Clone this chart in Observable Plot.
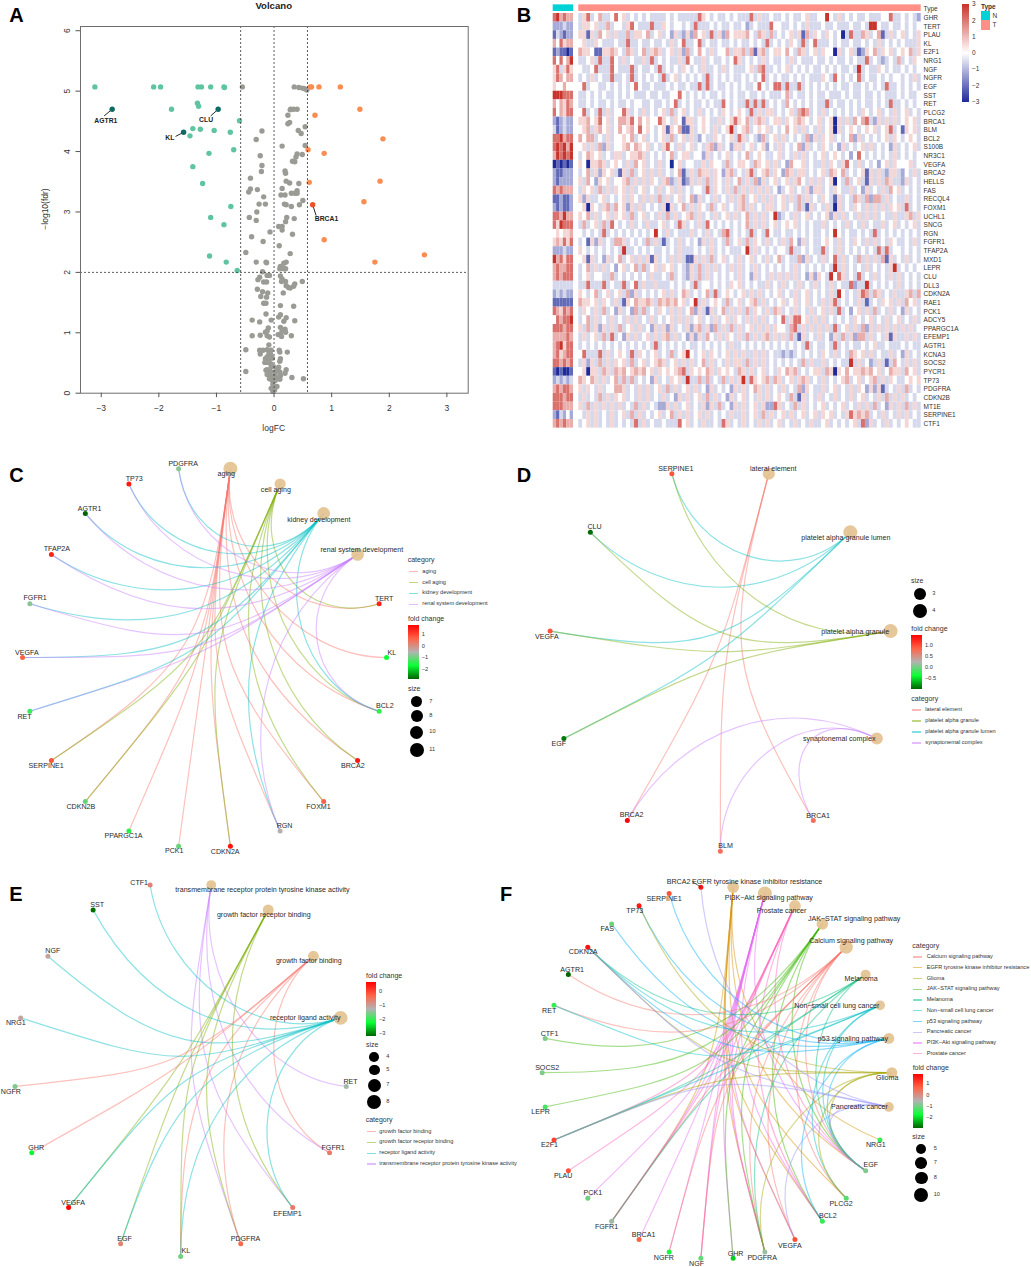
<!DOCTYPE html>
<html><head><meta charset="utf-8">
<script src="https://cdn.jsdelivr.net/npm/d3@7"></script>
<script src="https://cdn.jsdelivr.net/npm/@observablehq/plot@0.6"></script>
<style>
html,body{margin:0;padding:0;background:#fff}
#page{position:relative;width:1031px;height:1267px;overflow:hidden;font-family:"Liberation Sans",Arial,sans-serif;color:#333}
#page>svg,#page>div.p{position:absolute}
.t{position:absolute;white-space:nowrap;line-height:1;transform:translateY(-50%)}
.s{position:absolute}
</style></head><body><div id="page"></div>
<script>
/* ---------- Panel A data: [logFC, -log10(fdr)] ---------- */
const volcanoDown=[[-3.11,5.07],[-2.09,5.07],[-1.97,5.07],[-1.32,5.07],[-1.26,5.07],[-1.10,5.07],[-.87,5.07],[-.86,5.06],[-1.78,4.70],[-1.33,4.80],[-1.31,4.75],[-.60,4.51],[-1.41,4.38],[-1.28,4.37],[-1.04,4.35],[-.76,4.32],[-1.46,4.26],[-.70,4.03],[-1.13,3.97],[-1.41,3.75],[-1.24,3.47],[-.75,3.09],[-1.10,2.91],[-.87,2.79],[-1.12,2.27],[-.83,2.17],[-.64,2.03]];
const volcanoUp=[[.63,5.07],[.65,5.07],[.78,5.07],[1.15,5.07],[1.49,4.70],[.71,4.60],[1.89,4.21],[.59,4.03],[.87,3.97],[1.84,3.51],[.61,3.49],[1.56,3.17],[.87,2.54],[2.61,2.29],[1.75,2.17]];
const volcanoGray=[[-.55,5.07],[.35,5.07],[.43,5.06],[.49,5.05],[.53,5.04],[.57,5.02],[.29,4.70],[.34,4.70],[.40,4.70],[.28,4.69],[.24,4.60],[.27,4.48],[.24,4.46],[.54,4.41],[.42,4.35],[.47,4.30],[-.21,4.34],[-.31,4.20],[.14,4.09],[.54,4.10],[-.24,3.93],[.40,3.96],[.49,3.95],[.38,3.91],[.32,3.84],[.36,3.83],[-.21,3.77],[-.22,3.67],[.19,3.68],[.20,3.64],[-.41,3.56],[.21,3.51],[.27,3.48],[.43,3.47],[.14,3.39],[-.41,3.38],[-.44,3.33],[-.29,3.37],[.40,3.35],[.30,3.31],[.36,3.31],[.40,3.31],[-.18,3.25],[.12,3.28],[.19,3.28],[.50,3.19],[-.26,3.13],[-.15,3.13],[.18,3.13],[.21,3.12],[.30,3.09],[.44,3.12],[-.30,3.0],[-.43,2.91],[.22,2.91],[.35,2.89],[-.31,2.86],[.20,2.84],[.08,2.76],[.14,2.76],[.14,2.70],[-.07,2.67],[.32,2.63],[-.39,2.59],[-.19,2.51],[.09,2.44],[-.49,2.33],[.28,2.31],[-.31,2.17],[-.14,2.17],[-.13,2.16],[.21,2.17],[.17,2.15],[.11,2.10],[.10,2.06],[.17,2.06],[.20,2.06],[-.20,2.01],[-.12,1.95],[-.08,1.95],[-.25,1.92],[.11,1.94],[-.28,1.88],[.14,1.89],[.13,1.85],[.20,1.85],[.49,1.85],[-.18,1.84],[-.13,1.84],[.36,1.81],[.21,1.78],[.34,1.77],[.25,1.75],[.28,1.74],[-.29,1.72],[-.20,1.68],[-.11,1.66],[.16,1.66],[-.23,1.60],[-.13,1.59],[-.18,1.49],[-.14,1.49],[.11,1.45],[.34,1.44],[-.14,1.31],[.11,1.30],[.08,1.26],[.21,1.25],[-.05,1.21],[-.38,1.21],[-.25,1.18],[.17,1.19],[.36,1.20],[-.10,1.08],[.11,1.09],[-.15,1.01],[-.12,1.03],[.19,1.06],[.14,1.04],[.20,1.01],[.11,.98],[.07,.97],[-.24,.96],[-.38,.95],[-.12,.95],[-.08,.93],[.13,.94],[.30,.95],[-.09,.80],[-.49,.72],[-.25,.71],[-.19,.71],[-.12,.72],[-.05,.71],[.09,.71],[.10,.68],[.23,.68],[-.24,.65],[-.09,.65],[-.06,.64],[-.12,.60],[-.03,.58],[.11,.57],[.10,.53],[-.15,.57],[-.09,.55],[-.12,.51],[-.16,.51],[-.06,.49],[-.05,.44],[-.01,.44],[.08,.43],[-.12,.39],[-.14,.38],[-.49,.36],[-.06,.36],[.05,.38],[.02,.35],[.21,.39],[.19,.33],[.10,.35],[-.12,.31],[-.05,.29],[.02,.29],[.31,.26],[.11,.29],[-.08,.24],[.04,.25],[.10,.23],[.51,.24],[-.03,.21],[.02,.21],[-.02,.15],[.05,.11],[-.05,.08],[.01,.055],[-.02,.03]];
const volcanoNamed=[{g:"AGTR1",x:-2.81,y:4.70,lx:-2.92,ly:4.51,ex:-2.95,ey:4.59,c:"#0e6b63"},{g:"CLU",x:-.97,y:4.70,lx:-1.18,ly:4.52,ex:-1.10,ey:4.59,c:"#0e6b63"},{g:"KL",x:-1.57,y:4.32,lx:-1.81,ly:4.22,ex:-1.71,ey:4.25,c:"#0e6b63"},{g:"BRCA1",x:.67,y:3.12,lx:.91,ly:2.89,ex:.73,ey:2.94,c:"#ea5029"}];

/* ---------- Panel B data: levels estimated by eye per row ---------- */
const heatGenes=["GHR","TERT","PLAU","KL","E2F1","NRG1","NGF","NGFR","EGF","SST","RET","PLCG2","BRCA1","BLM","BCL2","S100B","NR3C1","VEGFA","BRCA2","HELLS","FAS","RECQL4","FOXM1","UCHL1","SNCG","RGN","FGFR1","TFAP2A","MXD1","LEPR","CLU","DLL3","CDKN2A","RAE1","PCK1","ADCY5","PPARGC1A","EFEMP1","AGTR1","KCNA3","SOCS2","PYCR1","TP73","PDGFRA","CDKN2B","MT1E","SERPINE1","CTF1"];
const heatLevels=[-3,-2.1,-1.2,-.55,0,.6,1.2,2.1,3];
const heatNormal=["786766","222322","132122","647566","121101","747468","573575","576466","544644","888777","646576","746577","212322","312322","778677","787868","687878","010101","211222","212222","767666","112112","212112","776866","758777","454556","565757","222322","867577","676677","676777","333333","232322","111111","765767","476778","777677","666676","678577","675677","776767","101001","232323","676776","777677","777666","213242","676766"];
const heatTumor=[
"3573463347 4534343433 3343433333 7543433434 3337353343 3434334533 4484353434 3343334473 343432",
"3554533634 4357433373 3543443437 3334343343 3423433374 4334343533 3433433343 3438843343 343434",
"5515364535 3363554634 5342532526 4537352645 5564365363 4345351635 4354340373 3653461353 453435",
"4533543334 3373343343 3435347334 7343343343 4334343734 3435437347 3334343343 3434353434 343335",
"6554115565 4365346356 5345352634 6435344635 5636156345 5464365345 3544053453 1254635453 454635",
"3345373374 3534335373 4343353743 3534334347 5343435343 3435343334 3343433434 3373432343 634354",
"4334733374 3337343343 7343435434 3533435343 3345367334 3453434343 3434343343 8343354343 343434",
"3435343373 3437343434 3734534343 4373434343 3434347343 4334343433 3543743434 7343343434 434353",
"4734433434 3434743343 3343433433 7373433434 3433474347 7373373434 3434343343 3434343733 434343",
"3343434334 3434333433 4334474343 4343343434 3343343433 3463433434 3343334343 3433434333 434334",
"3343433434 3343443343 3434734343 3434337434 3373737343 4364343434 3373433434 3433434373 343434",
"4734373534 4753435343 4536345343 5343435434 5437353553 4345367634 3534343434 3543453435 345343",
"5564574534 6657464544 7543541553 4543353457 5463565345 5354565434 5345053536 4673253535 345453",
"4563564534 6456474543 4515461153 4543534583 4563454534 3464535343 5345053454 3454534573 415453",
"6466343534 4546345343 4536345353 2433543453 7534326345 3534343625 3545343462 5343434535 434543",
"4535362534 4564654534 3574353453 4356253425 5345345243 5343462534 3543425343 4535343425 343453",
"3465453435 5345565343 4346345534 4253434534 3463454334 5343535343 4534543424 7434343435 343434",
"5405565345 4353645343 5340453443 3535443634 5543654535 3426445343 3535435743 5343424535 444534",
"3463525453 1536345353 5343461353 6553542563 4357345635 4265355343 4536546343 4515353255 324353",
"5364254534 4563535354 3562351253 5363543534 6353625345 3453564353 5345043634 5315353653 325343",
"3545363535 4535345343 5345353434 4373543536 3535353534 2345343525 5343543353 4253435364 534343",
"5253345343 4535435353 6353453462 5343534353 5634535353 4535363534 3543153436 5362663534 335343",
"4505435636 4525353434 3505346353 5436345343 5635343553 4534363153 4353053435 4353535354 537343",
"5463534535 4536345343 5363534563 5343534535 3463535348 2343534534 3452535343 5353534335 335635",
"3634536374 3435343533 4534375343 5374343434 3463535345 3454534343 3534343534 3534335345 343453",
"4343437343 4343434348 4353433353 4353436734 3437343743 3433434343 3434843433 4343734343 434343",
"3415253436 6534343635 3134353434 2535343634 5363543534 3536425343 3454353435 4353534354 334353",
"5434343434 3833434343 3434353334 3435343433 3483534343 4437334343 3734353434 3434373734 434343",
"4515342534 6345353515 3435353115 3536345343 5345343534 6343362534 3534735343 6353536153 435343",
"3463535342 4534636345 3545343253 6353534353 5343534343 4343534343 4343835343 4353434358 343434",
"3453443363 4343434353 3436343253 6353434343 5342534353 5353534252 5438475343 7343534353 534343",
"3373337343 3734735335 3334343437 3443434354 5343433534 3534353435 3435343372 3383434343 534343",
"5434634534 5362534343 4535346534 3463734543 4535353434 5343534534 3435384343 5763653435 335636",
"6554535435 3154655653 6565645348 3534543634 5345635343 4534534534 3535734343 5313435453 536453",
"3543536342 5342636343 5435353462 5315346353 5363543536 5343534353 4535373424 5353634353 425343",
"3463534353 4353534353 4345353534 5343534535 4353535343 4735774535 3534343435 4345343534 534353",
"5363525353 6345353425 3525343525 6352635363 5345353535 4436735353 5353734535 3625353535 353534",
"3534536373 4253534535 3563534252 5364353543 5363535635 3536315343 5342536352 6635343515 335353",
"3434343434 3434343437 3434343433 4343434353 3434343434 3434343734 3343734343 3434533433 343433",
"4733373534 5437354345 3436345843 4535434535 3533535343 3232343434 3543534365 4535343353 425343",
"3525363535 4536345345 6534535353 4635343535 5363535343 4343436353 3534343383 5342353136 435353",
"4505536536 5645656453 5454567354 5465354543 6535345343 5465634345 5365054645 5656453465 536453",
"6546535346 3636343425 3435453833 6363436353 5837545636 5345356534 3534345634 5345635354 334545",
"5354353446 6534353534 5363534535 3425343425 3534653534 3534362543 3534534353 5425251343 536343",
"3534363535 4534353534 3534253534 5363534253 4534353534 5436315343 5343534353 4534353635 353434",
"5363535353 5343635343 2253534534 3525363425 3534535227 5343635343 4534345343 5353634253 536353",
"4353534353 4536353434 5346353534 5353434353 3534536353 4535345345 3545343575 6563435343 535343",
"3453534353 4343735343 3433374534 3533437534 3534353534 5343534353 3453434345 3725343534 345433"];

/* ---------- Panels C to F data: node order round the circle, fold changes, memberships ---------- */
const cCats=["aging","cell aging","kidney development","renal system development"];
const cSizes=[11,7,9,9];
const cGenes=["TERT","KL","BCL2","BRCA2","FOXM1","RGN","CDKN2A","PCK1","PPARGC1A","CDKN2B","SERPINE1","RET","VEGFA","FGFR1","TFAP2A","AGTR1","TP73","PDGFRA"];
const cFC=[1.5,-1.6,-1.4,1.6,.75,-.4,1.7,-1.0,-1.4,-1.0,.9,-1.3,.75,-.75,1.5,-2.8,1.6,-.75];
const cMembers=[["TERT","KL","BCL2","BRCA2","FOXM1","RGN","CDKN2A","PCK1","PPARGC1A","CDKN2B","SERPINE1"],["TERT","BCL2","BRCA2","FOXM1","CDKN2A","CDKN2B","SERPINE1"],["BCL2","RGN","RET","VEGFA","FGFR1","TFAP2A","AGTR1","TP73","PDGFRA"],["BCL2","RGN","RET","VEGFA","FGFR1","TFAP2A","AGTR1","TP73","PDGFRA"]];
const cLabelAt=[[677,100],[826,147],[955,237],[1084,328],[1151,474],[1174,637],[1153,797],[1057,975],[954,1100],[852,1157],[674,1233],[521,1232],[369,1186],[241,1098],[137,975],[72,828],[79,636],[104,473],[169,326],[267,204],[401,115],[548,69]];

const dCats=["lateral element","platelet alpha granule lumen","platelet alpha granule","synaptonemal complex"];
const dSizes=[3,4,4,3];
const dGenes=["BRCA1","BLM","BRCA2","EGF","VEGFA","CLU","SERPINE1"];
const dFC=[.75,.75,1.45,-.9,.95,-.95,.95];
const dMembers=[["BRCA1","BLM","BRCA2"],["EGF","VEGFA","CLU","SERPINE1"],["EGF","VEGFA","CLU","SERPINE1"],["BRCA1","BLM","BRCA2"]];
const dLabelAt=[[788,86],[1006,292],[1034,573],[986,895],[923,1125],[645,1217],[363,1124],[145,911],[109,588],[252,260],[496,85]];

const eCats=["transmembrane receptor protein tyrosine kinase activity","growth factor receptor binding","growth factor binding","receptor ligand activity"];
const eSizes=[4,5,5,8];
const eGenes=["RET","FGFR1","EFEMP1","PDGFRA","KL","EGF","VEGFA","GHR","NGFR","NRG1","NGF","SST","CTF1"];
const eFC=[-1.3,-.5,-.5,-.3,-1.6,-.6,.75,-2.2,-1.5,-1.0,-1.0,-3.1,-.6];
const eMembers=[["RET","FGFR1","EFEMP1","PDGFRA"],["EFEMP1","PDGFRA","KL","EGF","VEGFA"],["FGFR1","PDGFRA","KL","GHR","NGFR"],["EFEMP1","KL","EGF","VEGFA","NRG1","NGF","SST","CTF1"]];
const eLabelAt=[[786,88],[790,163],[925,302],[914,473],[1050,664],[998,862],[861,1059],[735,1135],[556,1171],[372,1135],[218,1027],[107,861],[31,693],[46,487],[157,270],[290,134],[416,68]];

const fCats=["EGFR tyrosine kinase inhibitor resistance","PI3K\u2212Akt signaling pathway","Prostate cancer","JAK\u2212STAT signaling pathway","Calcium signaling pathway","Melanoma","Non\u2212small cell lung cancer","p53 signaling pathway","Glioma","Pancreatic cancer"];
const fSizes=[7,10,7,7,9,5,5,6,6,5];
const fGenes=["NRG1","EGF","PLCG2","BCL2","VEGFA","PDGFRA","GHR","NGF","NGFR","BRCA1","FGFR1","PCK1","PLAU","E2F1","LEPR","SOCS2","CTF1","RET","AGTR1","CDKN2A","FAS","TP73","SERPINE1","BRCA2"];
const fFC=[-1.3,-.8,-1.1,-1.3,.95,-.6,-2.0,-1.0,-1.5,.75,-.6,-.95,.95,1.1,-1.2,-.85,-.8,-1.3,-2.8,1.7,-.95,1.6,.95,1.6];
const fMembers=[["NRG1","EGF","PLCG2","BCL2","VEGFA","PDGFRA","FGFR1"],["BRCA1","NGFR","NGF","PCK1","FGFR1","GHR","BCL2","VEGFA","EGF","PDGFRA"],["PLAU","E2F1","EGF","BCL2","PDGFRA","FGFR1","NGF"],["LEPR","SOCS2","CTF1","GHR","EGF","BCL2","PDGFRA"],["AGTR1","NGF","NGFR","EGF","PLCG2","PDGFRA","VEGFA","FGFR1","RET"],["FGFR1","E2F1","CDKN2A","EGF","PDGFRA"],["RET","CDKN2A","E2F1","EGF","PLCG2"],["TP73","SERPINE1","FAS","CDKN2A","BCL2","EGF"],["E2F1","CDKN2A","EGF","PLCG2","PDGFRA","TP73"],["BRCA2","E2F1","CDKN2A","EGF","VEGFA"]];
const fLabelAt=[[710,65],[745,113],[783,150],[1001,176],[992,242],[1022,356],[949,435],[997,535],[1100,652],[1017,740],[1066,853],[1051,914],[962,1030],[922,1067],[808,1155],[725,1191],[645,1179],[528,1210],[430,1192],[369,1123],[258,1098],[217,997],[128,946],[87,854],[60,754],[80,621],[87,519],[86,451],[155,327],[188,274],[260,206],[343,151],[431,115],[474,65]];

/* ---------- palettes ---------- */
const RED="#F8766D",OLIVE="#7CAE00",CYAN="#00BFC4",PURPLE="#C77CFF";
const cColors=[RED,OLIVE,CYAN,PURPLE];
const dColors=[RED,CYAN,OLIVE,PURPLE];
const eColors=[PURPLE,OLIVE,RED,CYAN];
const fColors=["#D89000","#E76BF3","#FF62BC","#39B600","#F8766D","#00BF7D","#00BFC4","#00B0F6","#A3A500","#9590FF"];
const fcRamp=["darkgreen","#0AFF34","#B3B3B3","#FF6347","red"];
const FONT='"Liberation Sans",Arial,sans-serif';
const page=document.getElementById("page");

/* ---------- html helpers for titles and legends ---------- */
function txt(x,y,s,o={}){const d=document.createElement("div");d.className="t";d.textContent=s;
  d.style.left=x+"px";d.style.top=y+"px";d.style.fontSize=(o.size||7)+"px";
  if(o.bold)d.style.fontWeight="bold";if(o.color)d.style.color=o.color;
  if(o.transform)d.style.transform=o.transform;page.appendChild(d);return d;}
function box(x,y,w,h,css){const d=document.createElement("div");d.className="s";d.style.cssText+=`left:${x}px;top:${y}px;width:${w}px;height:${h}px;${css}`;page.appendChild(d);return d;}
function place(el,x,y){el.style.position="absolute";el.style.left=x+"px";el.style.top=y+"px";page.appendChild(el);}

function catLegend(ox,oy,title,ty,x0,x1,tx,ys,names,colors){
  txt(ox+x0/3-1,oy+ty/3,title,{size:7,color:"#333"});
  names.forEach((n,i)=>{box(ox+x0/3,oy+ys[i]/3-.6,(x1-x0)/3,1.2,`background:${colors[i]};opacity:.5`);
    txt(ox+tx/3,oy+ys[i]/3,n,{size:5.6,color:"#333"});});
}
function fcLegend(ox,oy,ty,x0,x1,y0,y1,tx,labels,ys){
  txt(ox+x0/3,oy+ty/3,"fold change",{size:7,color:"#333"});
  box(ox+x0/3,oy+y0/3,(x1-x0)/3,(y1-y0)/3,`background:linear-gradient(to top,${fcRamp.join(",")})`);
  labels.forEach((l,i)=>txt(ox+tx/3,oy+ys[i]/3,l,{size:5.6,color:"#333"}));
}
function sizeLegend(ox,oy,tx0,ty,cx,tx,vals,ys,rmax,vmax){
  txt(ox+tx0/3,oy+ty/3,"size",{size:7,color:"#333"});
  vals.forEach((v,i)=>{const r=rmax*Math.sqrt(v/vmax);
    box(ox+cx/3-r,oy+ys[i]/3-r,2*r,2*r,"background:#000;border-radius:50%");
    txt(ox+tx/3,oy+ys[i]/3,String(v),{size:5.6,color:"#333"});});
}

/* ---------- Panel A ---------- */
const asObj=a=>a.map(([x,y])=>({x,y}));
const volcano=Plot.plot({width:510,height:440,marginLeft:80,marginRight:42.3,marginTop:26,marginBottom:47.3,
  style:{background:"transparent",overflow:"visible",fontFamily:FONT,fontSize:"8.5px",color:"#333"},
  x:{domain:[-3.36,3.37],label:null},y:{domain:[0,6.07],label:null},
  marks:[
    Plot.dot(asObj(volcanoGray),{x:"x",y:"y",r:2.7,fill:"#9b9b95"}),
    Plot.dot(asObj(volcanoDown),{x:"x",y:"y",r:2.7,fill:"#5fc5a0"}),
    Plot.dot(asObj(volcanoUp),{x:"x",y:"y",r:2.7,fill:"#fb8c52"}),
    Plot.ruleX([-.58,0,.58],{stroke:"#333",strokeWidth:.8,strokeDasharray:"2,2"}),
    Plot.ruleY([2],{stroke:"#333",strokeWidth:.8,strokeDasharray:"2,2"}),
    Plot.link(volcanoNamed,{x1:"x",y1:"y",x2:"ex",y2:"ey",stroke:"#111",strokeWidth:.9}),
    Plot.dot(volcanoNamed,{x:"x",y:"y",r:2.7,fill:d=>d.c}),
    Plot.text(volcanoNamed,{x:"lx",y:"ly",text:"g",fontSize:6.8,fontWeight:"bold",fill:"#222"}),
    Plot.frame({stroke:"#6e6e6e",strokeWidth:1}),
    Plot.axisX({ticks:[-3,-2,-1,0,1,2,3],tickFormat:"d",tickSize:4.5,tickPadding:7,stroke:"#555",fill:"#333",fontSize:8.5,label:null}),
    Plot.axisY({ticks:[0,1,2,3,4,5,6],tickFormat:"d",tickSize:4.5,tickPadding:6,tickRotate:-90,stroke:"#555",fill:"#333",fontSize:8.5,label:null})
  ]});
place(volcano,0,0);
txt(273.7,6,"Volcano",{size:9.6,bold:true,color:"#222",transform:"translate(-50%,-50%)"});
txt(273.7,428.3,"logFC",{size:8.5,transform:"translate(-50%,-50%)"});
txt(45,209,"\u2212log10(fdr)",{size:8.5,transform:"translate(-50%,-50%) rotate(-90deg)"});

/* ---------- Panel B ---------- */
const heatCells=[];
heatGenes.forEach((g,i)=>{
  const n=heatNormal[i];const colW=5.1/6;
  for(let k=0;k<6;k++)heatCells.push({gene:g,x1:-6.43+k*colW,x2:-6.43+(k+1)*colW,v:heatLevels[+n[k]]});
  const t=heatTumor[i].replace(/ /g,"");
  for(let k=0;k<86;k++)heatCells.push({gene:g,x1:k,x2:k+1,v:heatLevels[+(t[k]||"4")]});
});
const heatTop=[{gene:"Type",x1:-6.43,x2:-1.33,fill:"#00d2d6"},{gene:"Type",x1:0,x2:86,fill:"#ff8f87"}];
const heat=Plot.plot({width:521,height:440,margin:0,
  style:{background:"transparent",overflow:"visible",fontFamily:FONT},
  x:{domain:[0,86],range:[68.3,410.7],axis:null},
  y:{domain:["Type",...heatGenes],range:[4.36,427.6],padding:0,axis:null},
  color:{type:"linear",domain:[-3,0,3],range:["#1f2a9a","#ffffff","#c8332c"]},
  marks:[
    Plot.barX(heatCells,{x1:"x1",x2:"x2",y:"gene",fill:"v"}),
    Plot.barX(heatTop,{x1:"x1",x2:"x2",y:"gene",fill:{value:d=>d.fill,scale:null},insetBottom:2}),
    Plot.text(["Type",...heatGenes],{x:86.6,y:d=>d,text:d=>d,textAnchor:"start",fontSize:6.5,fill:"#333",fontWeight:d=>d==="Type"?"bold":"normal"})
  ]});
place(heat,510,0);
box(962.3,4,7,98,"background:linear-gradient(to top,#1f2a9a,#ffffff,#c8332c)");
[["3",4],["2",20.5],["1",37],["0",53],["\u22121",69],["\u22122",86],["\u22123",102]].forEach(([l,y])=>txt(972,y,l,{size:6.5}));
txt(981,6.5,"Type",{size:6.5,bold:true});
box(981.3,11,9,9.3,"background:#00d2d6");box(981.3,20.3,9,9.3,"background:#ff8f87");
txt(992.5,15.7,"N",{size:6.5});txt(992.5,25,"T",{size:6.5});

/* ---------- gene-concept networks on a circular layout ---------- */
const edgeBow=.38;
function cubicCurve(ctx){let p=[];return{areaStart(){},areaEnd(){},lineStart(){p=[];},point(x,y){p.push([+x,+y]);},
  lineEnd(){if(p.length<4)return;ctx.moveTo(p[0][0],p[0][1]);ctx.bezierCurveTo(p[1][0],p[1][1],p[2][0],p[2][1],p[3][0],p[3][1]);}};}
function cnet(o){
  const names=[...o.cats,...o.genes],n=names.length;
  const nodes=names.map((name,i)=>{const a=(i+.5)*2*Math.PI/n;
    const [lx,ly]=o.labelAt[i];
    return {name,i,u:Math.sin(a),v:Math.cos(a),lu:(lx-o.cx)/o.rx,lv:(o.cy-ly)/o.ry};});
  const byName=new Map(nodes.map(d=>[d.name,d]));
  const rows=[];let id=0;
  o.members.forEach((list,c)=>list.forEach(g=>{
    const A=nodes[c],B=byName.get(g);
    const k=1-Math.min(1,edgeBow/Math.hypot((A.u+B.u)/2,(A.v+B.v)/2));
    [[A.u,A.v],[A.u*k,A.v*k],[B.u*k,B.v*k],[B.u,B.v]].forEach(([u,v])=>rows.push({id,c,u,v}));id++;}));
  const lo=o.fcRange[0],hi=o.fcRange[1];
  const cats=nodes.slice(0,o.cats.length).map((d,i)=>({...d,size:o.sizes[i]}));
  const genes=nodes.slice(o.cats.length).map((d,i)=>({...d,fc:o.fc[i]}));
  const plot=Plot.plot({width:o.w,height:o.h,margin:0,
    style:{background:"transparent",overflow:"visible",fontFamily:FONT},
    x:{domain:[-1,1],range:[(o.cx-o.rx)/3,(o.cx+o.rx)/3],axis:null},
    y:{domain:[-1,1],range:[(o.cy+o.ry)/3,(o.cy-o.ry)/3],axis:null},
    r:{type:"sqrt",domain:[0,o.sizeMax],range:[0,o.rMax]},
    color:{type:"linear",domain:[0,1,2,3,4].map(k=>lo+k*(hi-lo)/4),range:fcRamp},
    marks:[
      Plot.line(rows,{x:"u",y:"v",z:"id",stroke:{value:d=>o.colors[d.c],scale:null},strokeOpacity:.45,strokeWidth:1.2,curve:cubicCurve}),
      Plot.dot(cats,{x:"u",y:"v",r:"size",fill:"#E5C494",fillOpacity:.95}),
      Plot.dot(genes,{x:"u",y:"v",r:2.5,fill:"fc"}),
      ...(o.extra?o.extra(nodes):[]),
      Plot.text(nodes,{x:"lu",y:"lv",text:"name",fontSize:7.1,fill:"#2a2a2a"})
    ]});
  place(plot,o.ox,o.oy);
}
cnet({ox:0,oy:440,w:510,h:420,cx:612,cy:651,rx:546,ry:572,cats:cCats,genes:cGenes,fc:cFC,sizes:cSizes,members:cMembers,labelAt:cLabelAt,colors:cColors,fcRange:[-2.81,1.9],sizeMax:11,rMax:7});
cnet({ox:510,oy:440,w:521,h:420,cx:629.5,cy:654,rx:516,ry:578,cats:dCats,genes:dGenes,fc:dFC,sizes:dSizes,members:dMembers,labelAt:dLabelAt,colors:dColors,fcRange:[-.98,1.48],sizeMax:4,rMax:7});
cnet({ox:0,oy:860,w:540,h:407,cx:540.5,cy:626,rx:499,ry:562,cats:eCats,genes:eGenes,fc:eFC,sizes:eSizes,members:eMembers,labelAt:eLabelAt,colors:eColors,fcRange:[-3.15,.75],sizeMax:8,rMax:6.9});
cnet({ox:520,oy:860,w:511,h:407,cx:589.5,cy:636.5,rx:524.5,ry:559,cats:fCats,genes:fGenes,fc:fFC,sizes:fSizes,members:fMembers,labelAt:fLabelAt,colors:fColors,fcRange:[-2.8,1.9],sizeMax:10,rMax:7,
  extra:nodes=>{const b=nodes[nodes.length-1];return [Plot.link([b],{x1:"u",y1:"v",x2:d=>d.u-.05,y2:d=>d.v+.03,stroke:"#222",strokeWidth:.7})];}});

/* ---------- legends ---------- */
const hue4=[RED,OLIVE,CYAN,PURPLE];
catLegend(0,440,"category",358,1226,1254,1267,[395,428,460,493],["aging","cell aging","kidney development","renal system development"],hue4);
fcLegend(0,440,534,1224,1256,555,718,1265,["1","0","\u22121","\u22122"],[586,621,655,690]);
sizeLegend(0,440,1224,743,1250,1288,[7,8,10,11],[785,828,877,930],7,11);

sizeLegend(510,440,1203,419,1230,1267,[3,4],[463,513],7,4);
fcLegend(510,440,564,1204,1236,585,748,1245,["1.0","0.5","0.0","\u22120.5"],[617,650,683,716]);
catLegend(510,440,"category",773,1207,1233,1246,[810,843,876,909],["lateral element","platelet alpha granule","platelet alpha granule lumen","synaptonemal complex"],hue4);

fcLegend(0,860,345,1098,1129,366,527,1137,["0","\u22121","\u22122","\u22123"],[397,439,480,521]);
sizeLegend(0,860,1098,551,1123,1159,[4,5,7,8],[590,630,676,727],6.9,8);
catLegend(0,860,"category",778,1100,1127,1138,[815,847,880,912],["growth factor binding","growth factor receptor binding","receptor ligand activity","transmembrane receptor protein tyrosine kinase activity"],hue4);

catLegend(520,860,"category",254,1180,1207,1220,[291,323,356,388,420,452,485,517,549,581],["Calcium signaling pathway","EGFR tyrosine kinase inhibitor resistance","Glioma","JAK\u2212STAT signaling pathway","Melanoma","Non\u2212small cell lung cancer","p53 signaling pathway","Pancreatic cancer","PI3K\u2212Akt signaling pathway","Prostate cancer"],["#F8766D","#D89000","#A3A500","#39B600","#00BF7D","#00BFC4","#00B0F6","#9590FF","#E76BF3","#FF62BC"]);
fcLegend(520,860,622,1178,1210,642,804,1219,["1","0","\u22121","\u22122"],[672,707,741,775]);
sizeLegend(520,860,1177,828,1204,1241,[5,7,8,10],[867,908,954,1005],7,10);

/* ---------- panel letters ---------- */
[["A",9.3,15],["B",516.7,15],["C",9.3,474.5],["D",516.7,475],["E",9.3,893.7],["F",500,893.7]].forEach(([l,x,y])=>txt(x,y,l,{size:20,bold:true,color:"#000"}));
</script></body></html>
